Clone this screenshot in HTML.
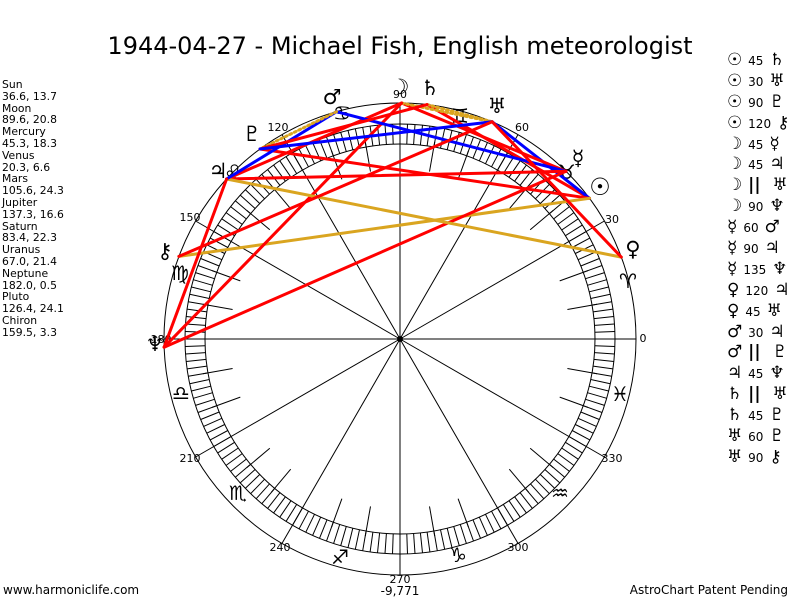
<!DOCTYPE html>
<html><head><meta charset="utf-8">
<style>
html,body{margin:0;padding:0;background:#fff;}
body{width:800px;height:600px;position:relative;overflow:hidden;font-family:"DejaVu Sans","Liberation Sans",sans-serif;color:#000;}
#title{position:absolute;left:0;width:800px;top:32px;text-align:center;font-family:"DejaVu Sans","Liberation Sans",sans-serif;font-size:24px;}
#left{position:absolute;left:2px;top:79px;font-size:10.8px;line-height:11.8px;white-space:pre;}
#right{position:absolute;left:727px;top:50px;}
#right div{height:20.9px;line-height:20.9px;white-space:nowrap;font-size:17px;font-weight:bold;}
#right span.n{font-size:12px;font-weight:normal;}
.ft{position:absolute;top:583px;font-size:12px;}
svg{position:absolute;left:0;top:0;}
</style></head><body>
<svg id="s" width="800" height="600" viewBox="0 0 800 600" font-family="DejaVu Sans, Liberation Sans, sans-serif">
<g id="base" stroke="#000" fill="none" stroke-width="1"></g>
<g font-size="11" fill="#000" text-anchor="middle">
<text x="643" y="342">0</text>
<text x="612" y="223">30</text>
<text x="522" y="131">60</text>
<text x="400" y="98">90</text>
<text x="278" y="131">120</text>
<text x="190" y="221">150</text>
<text x="161" y="343">180</text>
<text x="190" y="462">210</text>
<text x="280" y="551">240</text>
<text x="400" y="583">270</text>
<text x="518" y="551">300</text>
<text x="612" y="462">330</text>
</g>
<g font-size="20" fill="#000" text-anchor="middle">
<text x="628" y="288">♈</text>
<text x="567" y="179">♉</text>
<text x="460" y="123">♊</text>
<text x="342" y="120">♋</text>
<text x="233" y="179">♌</text>
<text x="180" y="280">♍</text>
<text x="181" y="400">♎</text>
<text x="238" y="500">♏</text>
<text x="340" y="564">♐</text>
<text x="458" y="562">♑</text>
<text x="560" y="500">♒</text>
<text x="620" y="401">♓</text>
</g>
<g id="asp" fill="none" stroke-linecap="round"></g>
<g font-size="21" fill="#000" text-anchor="middle" font-weight="bold">
<text x="600" y="195" font-size="24">☉</text>
<text x="400" y="94">☽</text>
<text x="578" y="165">☿</text>
<text x="633" y="256">♀</text>
<text x="332" y="104">♂</text>
<text x="218" y="178">♃</text>
<text x="430" y="95">♄</text>
<text x="497" y="113">♅</text>
<text x="155" y="351">♆</text>
<text x="252" y="141">♇</text>
<text x="165" y="258">⚷</text>
</g>
</svg>
<div id="title">1944-04-27 - Michael Fish, English meteorologist</div>
<div id="left">Sun
36.6, 13.7
Moon
89.6, 20.8
Mercury
45.3, 18.3
Venus
20.3, 6.6
Mars
105.6, 24.3
Jupiter
137.3, 16.6
Saturn
83.4, 22.3
Uranus
67.0, 21.4
Neptune
182.0, 0.5
Pluto
126.4, 24.1
Chiron
159.5, 3.3</div>
<div id="right">
<div>☉ <span class="n">45</span> ♄</div>
<div>☉ <span class="n">30</span> ♅</div>
<div>☉ <span class="n">90</span> ♇</div>
<div>☉ <span class="n">120</span> ⚷</div>
<div>☽ <span class="n">45</span> ☿</div>
<div>☽ <span class="n">45</span> ♃</div>
<div>☽ <b>||</b> &nbsp;♅</div>
<div>☽ <span class="n">90</span> ♆</div>
<div>☿ <span class="n">60</span> ♂</div>
<div>☿ <span class="n">90</span> ♃</div>
<div>☿ <span class="n">135</span> ♆</div>
<div>♀ <span class="n">120</span> ♃</div>
<div>♀ <span class="n">45</span> ♅</div>
<div>♂ <span class="n">30</span> ♃</div>
<div>♂ <b>||</b> &nbsp;♇</div>
<div>♃ <span class="n">45</span> ♆</div>
<div>♄ <b>||</b> &nbsp;♅</div>
<div>♄ <span class="n">45</span> ♇</div>
<div>♅ <span class="n">60</span> ♇</div>
<div>♅ <span class="n">90</span> ⚷</div>
</div>
<div class="ft" style="left:3px">www.harmoniclife.com</div>
<div class="ft" style="left:0;width:800px;text-align:center;top:584px">-9,771</div>
<div class="ft" style="right:12px">AstroChart Patent Pending</div>
<script>
(function(){
var NS="http://www.w3.org/2000/svg",cx=400,cy=339;
function P(a,r){var t=a*Math.PI/180;return [cx+r*Math.cos(t),cy-r*Math.sin(t)];}
function L(g,p,q,c,w,d){var e=document.createElementNS(NS,"line");e.setAttribute("x1",p[0].toFixed(1));e.setAttribute("y1",p[1].toFixed(1));e.setAttribute("x2",q[0].toFixed(1));e.setAttribute("y2",q[1].toFixed(1));if(c)e.setAttribute("stroke",c);if(w)e.setAttribute("stroke-width",w);if(d)e.setAttribute("stroke-dasharray",d);g.appendChild(e);}
function C(g,r){var e=document.createElementNS(NS,"circle");e.setAttribute("cx",cx);e.setAttribute("cy",cy);e.setAttribute("r",r);g.appendChild(e);}
var b=document.getElementById("base");
C(b,236);C(b,215);C(b,195);
for(var a=0;a<360;a+=2)L(b,P(a,195),P(a,215));
for(var a=0;a<360;a+=30)L(b,P(a,0),P(a,236));
for(var a=0;a<360;a+=10)if(a%30)L(b,P(a,170),P(a,200));
var d=document.createElementNS(NS,"circle");d.setAttribute("cx",cx);d.setAttribute("cy",cy);d.setAttribute("r",2.5);d.setAttribute("fill","#000");b.appendChild(d);
var pl={Su:36.6,Mo:89.6,Me:45.3,Ve:20.3,Ma:105.6,Ju:137.3,Sa:83.4,Ur:67.0,Ne:182.0,Pl:126.4,Ch:159.5};
var R="#ff0000",B="#0000ff",G="#daa520";
var as=[["Su","Sa",R],["Su","Ur",B],["Su","Pl",R],["Su","Ch",G],["Mo","Me",R],["Mo","Ju",R],["Mo","Ur",G,1],["Mo","Ne",R],["Me","Ma",B],["Me","Ju",R],["Me","Ne",R],["Ve","Ju",G],["Ve","Ur",R],["Ma","Ju",B],["Ma","Pl",G,1],["Ju","Ne",R],["Sa","Ur",G,1],["Sa","Pl",R],["Ur","Pl",B],["Ur","Ch",R]];
var g=document.getElementById("asp");
as.forEach(function(x){L(g,P(pl[x[0]],236),P(pl[x[1]],236),x[2],3,x[3]?"2,3":null);});
})();
</script>
</body></html>
